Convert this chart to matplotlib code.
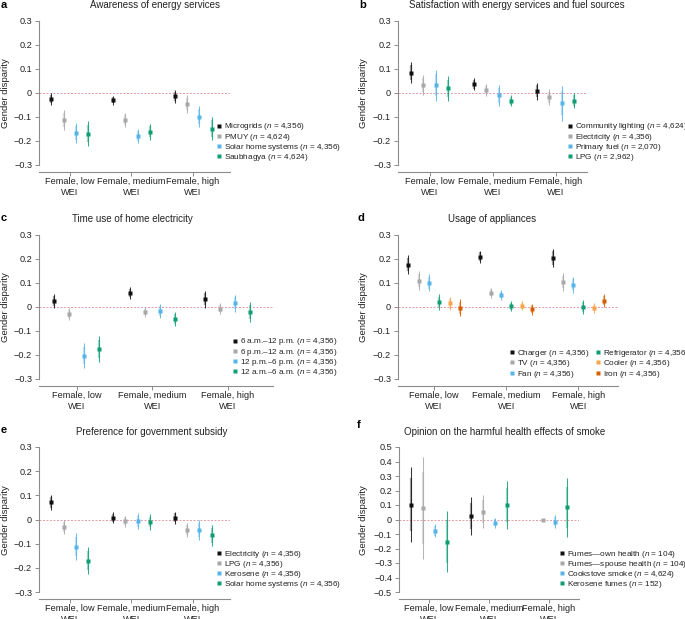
import numpy as np
import matplotlib
matplotlib.use("Agg")
import matplotlib.pyplot as plt
from matplotlib.lines import Line2D

plt.rcParams["font.family"] = ["Liberation Sans", "DejaVu Sans"]
plt.rcParams["mathtext.fontset"] = "custom"
plt.rcParams["mathtext.rm"] = "Liberation Sans"
plt.rcParams["mathtext.it"] = "Liberation Sans:italic"

GROUPS = ["Female, low\nWEI", "Female, medium\nWEI", "Female, high\nWEI"]

BLACK, GRAY, BLUE, GREEN = "#111111", "#a8a8a8", "#56b4e9", "#0f9e74"
ORANGE, VERMIL = "#f7a54a", "#d55e00"

# ---- a: awareness of energy services ----
a_names = ["Microgrids", "PMUY", "Solar home systems", "Saubhagya"]
a_n = ["4,356", "4,624", "4,356", "4,624"]
a_mean = [[-0.025, -0.030, -0.014], [-0.111, -0.111, -0.047],
          [-0.166, -0.179, -0.098], [-0.169, -0.162, -0.148]]
a_err = [[0.025, 0.018, 0.028], [0.042, 0.029, 0.037],
         [0.042, 0.031, 0.044], [0.051, 0.033, 0.049]]

# ---- b: satisfaction ----
b_names = ["Community lighting", "Electricity", "Primary fuel", "LPG"]
b_n = ["4,624", "4,356", "2,070", "2,962"]
b_mean = [[0.085, 0.036, 0.007], [0.034, 0.012, -0.018],
          [0.032, -0.010, -0.043], [0.019, -0.033, -0.032]]
b_err = [[0.043, 0.025, 0.035], [0.041, 0.026, 0.034],
         [0.065, 0.044, 0.072], [0.052, 0.023, 0.032]]

# ---- c: time use of home electricity ----
c_names = ["6 a.m.\u201312 p.m.", "6 p.m.\u201312 a.m.", "12 p.m.\u20136 p.m.", "12 a.m.\u20136 a.m."]
c_n = ["4,356", "4,356", "4,356", "4,356"]
c_mean = [[0.025, 0.058, 0.032], [-0.029, -0.021, -0.007],
          [-0.203, -0.018, 0.015], [-0.176, -0.051, -0.021]]
c_err = [[0.031, 0.024, 0.035], [0.025, 0.019, 0.022],
         [0.051, 0.029, 0.036], [0.054, 0.029, 0.040]]

# ---- d: usage of appliances ----
d_names = ["Charger", "TV", "Fan", "Refrigerator", "Cooler", "Iron"]
d_n = ["4,356"] * 6
d_mean = [[0.176, 0.210, 0.204], [0.109, 0.060, 0.104], [0.101, 0.050, 0.093],
          [0.021, 0.003, -0.001], [0.015, 0.005, -0.004], [-0.003, -0.010, 0.027]]
d_err = [[0.040, 0.025, 0.039], [0.039, 0.021, 0.037], [0.035, 0.020, 0.033],
         [0.032, 0.020, 0.030], [0.026, 0.018, 0.019], [0.035, 0.024, 0.026]]

# ---- e: preference for government subsidy ----
e_names = ["Electricity", "LPG", "Kerosene", "Solar home systems"]
e_n = ["4,356", "4,356", "4,356", "4,356"]
e_mean = [[0.071, 0.008, 0.008], [-0.030, -0.008, -0.043],
          [-0.112, -0.007, -0.042], [-0.170, -0.010, -0.066]]
e_err = [[0.032, 0.024, 0.025], [0.030, 0.024, 0.028],
         [0.057, 0.032, 0.042], [0.055, 0.032, 0.044]]

# ---- f: harmful health effects of smoke ----
f_names = ["Fumes\u2014own health", "Fumes\u2014spouse health", "Cookstove smoke", "Kerosene fumes"]
f_n = ["104", "104", "4,624", "152"]
f_mean = [[0.102, 0.023, np.nan], [0.079, 0.053, 0.000],
          [-0.079, -0.023, -0.014], [-0.152, 0.102, 0.083]]
f_err = [[0.259, 0.129, np.nan], [0.353, 0.113, 0.004],
         [0.045, 0.034, 0.042], [0.212, 0.166, 0.203]]

W, H = 685, 619
INNER = 0.7  # inner (thick) interval relative to full whisker
fig = plt.figure(figsize=(W / 100, H / 100), dpi=100)


def panel(box, xlim, ylim, yticks, names, ns, means, errs, colors, spacing):
    left, right, top, bottom = box
    ax = fig.add_axes([left / W, 1 - bottom / H, (right - left) / W, (bottom - top) / H])
    k = len(names)
    offs = (np.arange(k) - (k - 1) / 2) * spacing
    ax.axhline(0, color="#e59aa6", lw=0.7, ls=(0, (2, 1.6)), zorder=0)
    x0 = np.arange(3)
    for i in range(k):
        x = x0 + offs[i]
        m = np.array(means[i], float)
        e = np.array(errs[i], float)
        c = colors[i]
        ax.vlines(x, m - e, m + e, color=c, lw=0.75, alpha=0.85, zorder=2)
        ax.vlines(x, m - INNER * e, m + INNER * e, color=c, lw=1.6, alpha=0.4, zorder=2)
        ax.plot(x, m, "s", color=c, ms=2.4, mec="none", zorder=3)
    ax.set_xlim(*xlim)
    ax.set_ylim(*ylim)
    ax.set_yticks(yticks)
    ax.set_yticklabels(["0" if abs(v) < 1e-9 else f"{v:.1f}".replace("-", "\u2212") for v in yticks])
    ax.set_xticks(x0)
    ax.set_xticklabels(GROUPS, linespacing=1.15)
    for s in ("top", "right"):
        ax.spines[s].set_visible(False)
    for s in ("left", "bottom"):
        ax.spines[s].set_color("#8c8c8c")
        ax.spines[s].set_linewidth(0.8)
    ax.spines["bottom"].set_position(("outward", 5))
    ax.tick_params(axis="both", length=3, width=0.7, color="#8c8c8c", labelsize=6.6,
                   pad=2, labelcolor="#222222")
    ax.tick_params(axis="x", pad=0.8)
    return ax


def legend(names, ns, colors, x, y, ncol=1, colsp=1.0):
    hs = [Line2D([], [], marker="s", ls="none", color=c, ms=2.4, mec="none") for c in colors]
    labels = [f"{nm} ($\\it{{n}}$ = {n})" for nm, n in zip(names, ns)]
    fig.legend(hs, labels, loc="upper left", bbox_to_anchor=(x / W, 1 - y / H),
               frameon=False, fontsize=5.9, handlelength=0.45, handletextpad=0.35,
               borderpad=0, borderaxespad=0, labelspacing=-0.09, ncol=ncol,
               columnspacing=colsp, labelcolor="#222222")


def labels(letter, lx, ly, title, tx, ty, ylx, yly):
    fig.text(lx / W, 1 - ly / H, letter, fontsize=8, fontweight="bold", va="center", ha="left")
    fig.text(tx / W, 1 - ty / H, title, fontsize=7, va="center", ha="center", color="#222222")
    fig.text(ylx / W, 1 - yly / H, "Gender disparity", fontsize=6.8, rotation=90,
             va="center", ha="center", color="#222222")


c4 = [BLACK, GRAY, BLUE, GREEN]
c6 = [BLACK, GRAY, BLUE, GREEN, ORANGE, VERMIL]
yt3 = [-0.3, -0.2, -0.1, 0, 0.1, 0.2, 0.3]
yt5 = [-0.5, -0.4, -0.3, -0.2, -0.1, 0, 0.1, 0.2, 0.3, 0.4, 0.5]

panel((39, 230, 21, 165), (-0.5, 2.6), (-0.3, 0.3), yt3, a_names, a_n, a_mean, a_err, c4, 0.2)
legend(a_names, a_n, c4, 217, 121.5)
labels("a", 1, 5, "Awareness of energy services", 155, 5, 6, 93)

panel((398, 587, 21, 165), (-0.5, 2.5), (-0.3, 0.3), yt3, b_names, b_n, b_mean, b_err, c4, 0.2)
legend(b_names, b_n, c4, 568, 121.5)
labels("b", 359, 5, "Satisfaction with energy services and fuel sources", 517, 5, 364, 93)

panel((39, 273, 235, 379), (-0.5, 2.6), (-0.3, 0.3), yt3, c_names, c_n, c_mean, c_err, c4, 0.2)
legend(c_names, c_n, c4, 233, 336.5)
labels("c", 1, 218, "Time use of home electricity", 132, 219, 6, 307)

panel((398, 618, 235, 379), (-0.5, 2.55), (-0.3, 0.3), yt3, d_names, d_n, d_mean, d_err, c6, 1 / 7)
legend(d_names, d_n, c6, 510.5, 348, ncol=2, colsp=0.8)
labels("d", 357, 218, "Usage of appliances", 492, 219, 364, 307)

panel((39, 230, 447, 592), (-0.5, 2.6), (-0.3, 0.3), yt3, e_names, e_n, e_mean, e_err, c4, 0.2)
legend(e_names, e_n, c4, 217, 548.5)
labels("e", 1, 430, "Preference for government subsidy", 152, 432, 6, 520)

panel((399, 579, 447, 592), (-0.5, 2.5), (-0.5, 0.5), yt5, f_names, f_n, f_mean, f_err, c4, 0.2)
legend(f_names, f_n, c4, 560, 548.5)
labels("f", 357, 425, "Opinion on the harmful health effects of smoke", 505, 432, 364, 520)

fig.savefig("out.png", dpi=100)
